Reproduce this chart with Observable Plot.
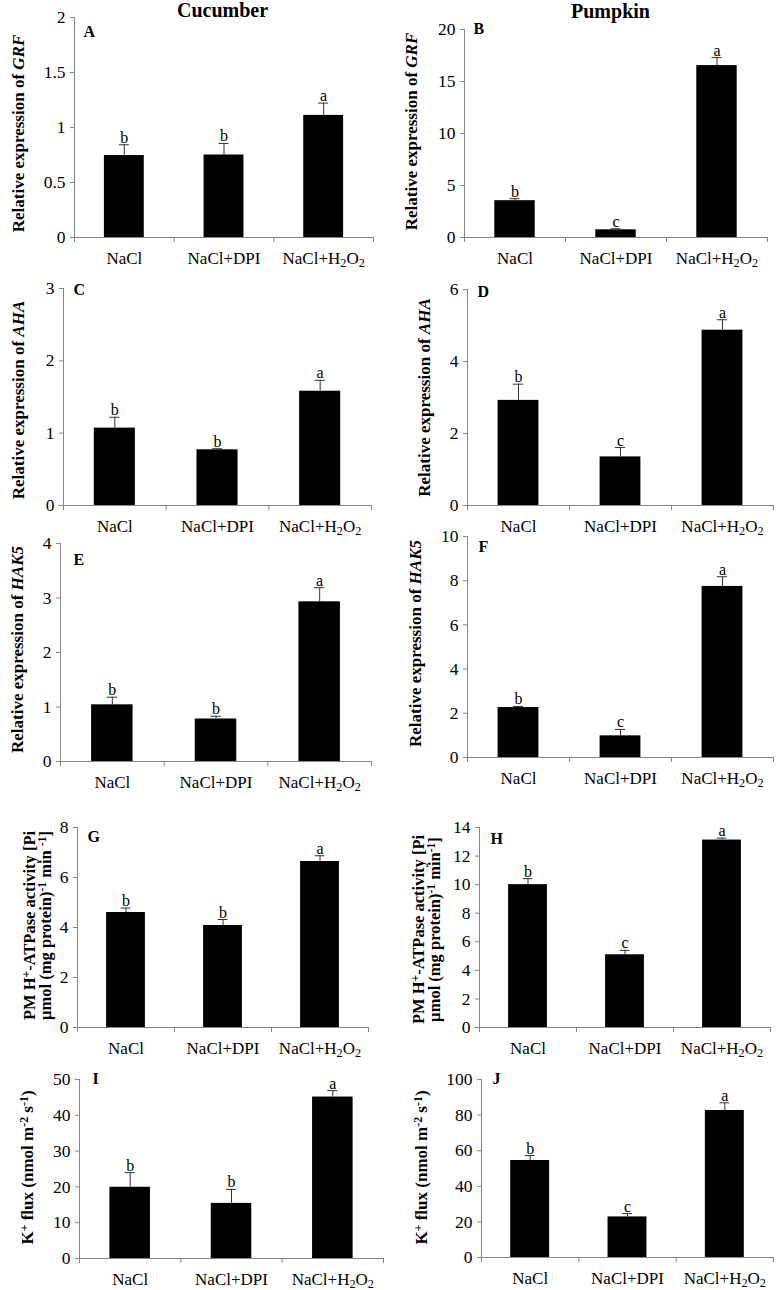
<!DOCTYPE html>
<html><head><meta charset="utf-8">
<script src="https://cdn.jsdelivr.net/npm/d3@7"></script>
<script src="https://cdn.jsdelivr.net/npm/@observablehq/plot@0.6"></script>
<style>
body{margin:0;background:#fff;}
#root{position:relative;width:778px;height:1290px;overflow:hidden;background:#fff;}
#root svg{position:absolute;}
</style></head><body><div id="root"></div>
<script>
// ---------- data ----------
const categories = ["NaCl", "NaCl+DPI", "NaCl+H2O2"];

const grfCucumber = [0.745, 0.75, 1.11];
const grfCucumberErr = [0.098, 0.105, 0.112];
const grfCucumberSig = ["b", "b", "a"];

const grfPumpkin = [3.54, 0.74, 16.53];
const grfPumpkinErr = [0.19, 0.1, 0.77];
const grfPumpkinSig = ["b", "c", "a"];

const ahaCucumber = [1.07, 0.77, 1.58];
const ahaCucumberErr = [0.15, 0.015, 0.15];
const ahaCucumberSig = ["b", "b", "a"];

const ahaPumpkin = [2.92, 1.35, 4.87];
const ahaPumpkinErr = [0.45, 0.26, 0.29];
const ahaPumpkinSig = ["b", "c", "a"];

const hak5Cucumber = [1.04, 0.78, 2.93];
const hak5CucumberErr = [0.14, 0.05, 0.26];
const hak5CucumberSig = ["b", "b", "a"];

const hak5Pumpkin = [2.26, 0.98, 7.74];
const hak5PumpkinErr = [0.05, 0.29, 0.44];
const hak5PumpkinSig = ["b", "c", "a"];

const atpaseCucumber = [4.6, 4.08, 6.64];
const atpaseCucumberErr = [0.18, 0.24, 0.23];
const atpaseCucumberSig = ["b", "b", "a"];

const atpasePumpkin = [10.0, 5.09, 13.12];
const atpasePumpkinErr = [0.42, 0.31, 0.14];
const atpasePumpkinSig = ["b", "c", "a"];

const kfluxCucumber = [19.9, 15.4, 45.1];
const kfluxCucumberErr = [4.1, 3.9, 1.8];
const kfluxCucumberSig = ["b", "b", "a"];

const kfluxPumpkin = [54.5, 22.8, 82.6];
const kfluxPumpkinErr = [2.8, 1.9, 4.3];
const kfluxPumpkinSig = ["b", "c", "a"];

const ticksA = [0, 0.5, 1, 1.5, 2];
const ticksB = [0, 5, 10, 15, 20];
const ticksC = [0, 1, 2, 3];
const ticksD = [0, 2, 4, 6];
const ticksE = [0, 1, 2, 3, 4];
const ticksF = [0, 2, 4, 6, 8, 10];
const ticksG = [0, 2, 4, 6, 8];
const ticksH = [0, 2, 4, 6, 8, 10, 12, 14];
const ticksI = [0, 10, 20, 30, 40, 50];
const ticksJ = [0, 20, 40, 60, 80, 100];

const labelGRF = [{t: "Relative expression of "}, {t: "GRF", i: true}];
const labelAHA = [{t: "Relative expression of "}, {t: "AHA", i: true}];
const labelHAK5 = [{t: "Relative expression of "}, {t: "HAK5", i: true}];
const labelATPaseG = [{t: "PM H"}, {t: "+", sup: true}, {t: "-ATPase activity [Pi"},
  {t: "µmol (mg protein)", nl: true}, {t: "-1", sup: true}, {t: " min "}, {t: "-1", sup: true}, {t: "]"}];
const labelATPaseH = [{t: "PM H"}, {t: "+", sup: true}, {t: "-ATPase activity [Pi"},
  {t: "µmol (mg protein)", nl: true}, {t: "-1", sup: true}, {t: " min"}, {t: "-1", sup: true}, {t: "]"}];
const labelKflux = [{t: "K"}, {t: "+", sup: true}, {t: " flux (nmol m"}, {t: "-2", sup: true}, {t: " s"}, {t: "-1", sup: true}, {t: ")"}];

// ---------- layout ----------
const panels = [
  {id: "A", v: grfCucumber, e: grfCucumberErr, s: grfCucumberSig, ticks: ticksA, label: labelGRF, col: 0, axisX: 74, xEnd: 373, top: 17, base: 237, ldx: -56, ldy: 6, adx: 9, ady: 8, title: "Cucumber", tdx: -1.5, tdy: -6.5},
  {id: "B", v: grfPumpkin, e: grfPumpkinErr, s: grfPumpkinSig, ticks: ticksB, label: labelGRF, col: 1, axisX: 464, xEnd: 767, top: 29, base: 237, ldx: -53, ldy: -2, adx: 9, ady: -7, title: "Pumpkin", tdx: -5.5, tdy: -17.5},
  {id: "C", v: ahaCucumber, e: ahaCucumberErr, s: ahaCucumberSig, ticks: ticksC, label: labelAHA, col: 0, axisX: 63, xEnd: 371, top: 288, base: 505, ldx: -45, ldy: 3, adx: 10, ady: -5},
  {id: "D", v: ahaPumpkin, e: ahaPumpkinErr, s: ahaPumpkinSig, ticks: ticksD, label: labelAHA, col: 1, axisX: 467, xEnd: 773, top: 289, base: 505, ldx: -43, ldy: 0, adx: 10, ady: -4},
  {id: "E", v: hak5Cucumber, e: hak5CucumberErr, s: hak5CucumberSig, ticks: ticksE, label: labelHAK5, col: 0, axisX: 60, xEnd: 371, top: 543, base: 761, ldx: -43, ldy: -3, adx: 13, ady: 10},
  {id: "F", v: hak5Pumpkin, e: hak5PumpkinErr, s: hak5PumpkinSig, ticks: ticksF, label: labelHAK5, col: 1, axisX: 467, xEnd: 773, top: 536, base: 757, ldx: -52, ldy: -3.5, adx: 11, ady: 4},
  {id: "G", v: atpaseCucumber, e: atpaseCucumberErr, s: atpaseCucumberSig, ticks: ticksG, label: labelATPaseG, col: 0, axisX: 77, xEnd: 368, top: 827, base: 1027, ldx: -48, ldy: -2, adx: 10, ady: 3, lfs: 16.5},
  {id: "H", v: atpasePumpkin, e: atpasePumpkinErr, s: atpasePumpkinSig, ticks: ticksH, label: labelATPaseH, col: 1, axisX: 479, xEnd: 770, top: 827, base: 1027, ldx: -61, ldy: 2, adx: 11, ady: 5, lfs: 16.5},
  {id: "I", v: kfluxCucumber, e: kfluxCucumberErr, s: kfluxCucumberSig, ticks: ticksI, label: labelKflux, col: 0, axisX: 79, xEnd: 383, top: 1079, base: 1258, ldx: -52, ldy: -1.5, adx: 13, ady: -7},
  {id: "J", v: kfluxPumpkin, e: kfluxPumpkinErr, s: kfluxPumpkinSig, ticks: ticksJ, label: labelKflux, col: 1, axisX: 481, xEnd: 773, top: 1079, base: 1257, ldx: -60, ldy: -1, adx: 11, ady: -7}
];

const FONT = '"Liberation Serif", "Times New Roman", Times, serif';
const AXIS = "#868686";
const NS = "http://www.w3.org/2000/svg";

function rich(el, parts, lineGap) {
  while (el.firstChild) el.removeChild(el.firstChild);
  for (const p of parts) {
    const t = document.createElementNS(NS, "tspan");
    t.textContent = p.t;
    if (p.nl) { t.setAttribute("x", "0"); t.setAttribute("dy", lineGap || "1em"); }
    if (p.i) t.setAttribute("font-style", "italic");
    if (p.sup) { t.setAttribute("baseline-shift", "5px"); t.setAttribute("font-size", "70%"); }
    if (p.sub) { t.setAttribute("baseline-shift", "-3px"); t.setAttribute("font-size", "72%"); }
    el.appendChild(t);
  }
}
const plain = parts => parts.map(p => p.t).join("");

const root = document.getElementById("root");
const MT = 30, MB = 38;

for (const P of panels) {
  const left = P.col ? 390 : 0;
  const width = P.col ? 388 : 390;
  const data = categories.map((c, i) => ({i, c, v: P.v[i], e: P.e[i], s: P.s[i]}));
  const ymax = P.ticks[P.ticks.length - 1];
  const labelText = plain(P.label);
  const marks = [
    Plot.rectY(data, {x1: d => d.i + 0.3, x2: d => d.i + 0.7, y: "v", fill: "black"}),
    Plot.ruleX(data, {x: d => d.i + 0.5, y1: "v", y2: d => d.v + d.e, stroke: "#333", strokeWidth: 1}),
    Plot.ruleY(data, {y: d => d.v + d.e, x1: d => d.i + 0.45, x2: d => d.i + 0.55, stroke: "#333", strokeWidth: 1}),
    Plot.text(data, {x: d => d.i + 0.5, y: d => d.v + d.e, text: "s", lineAnchor: "bottom", dy: -2, fontSize: 16, fill: "black"}),
    Plot.ruleY([0], {stroke: AXIS}),
    Plot.ruleX([0], {stroke: AXIS}),
    Plot.axisY({ticks: P.ticks, tickFormat: d => String(d), tickSize: 4, tickPadding: 5, stroke: AXIS, fill: "black", fontSize: 17.5, label: null}),
    Plot.axisX({ticks: [0, 1, 2, 3], tickFormat: () => "", tickSize: 5, stroke: AXIS, label: null}),
    Plot.axisX({ticks: [0.5, 1.5, 2.5], tickFormat: d => categories[Math.floor(d)], tickSize: 0, tickPadding: 14, fill: "black", fontSize: 17, label: null}),
    Plot.text([P.id], {frameAnchor: "top-left", dx: P.adx, dy: P.ady, textAnchor: "start", lineAnchor: "top", fontWeight: "bold", fontSize: 16, fill: "black"}),
    Plot.text([labelText], {frameAnchor: "left", dx: P.ldx, dy: P.ldy, rotate: -90, textAnchor: "middle", lineAnchor: "middle", fontWeight: "bold", fontSize: P.lfs || 17, fill: "black"})
  ];
  if (P.title) marks.push(Plot.text([P.title], {frameAnchor: "top", dx: P.tdx, dy: P.tdy, lineAnchor: "middle", fontWeight: "bold", fontSize: 20, fill: "black"}));
  const svg = Plot.plot({
    width, height: MT + (P.base - P.top) + MB,
    marginLeft: P.axisX - left, marginRight: left + width - P.xEnd,
    marginTop: MT, marginBottom: MB,
    style: {background: "transparent", fontFamily: FONT, fontSize: "17px", color: "black", overflow: "visible"},
    x: {type: "linear", domain: [0, 3], axis: null},
    y: {type: "linear", domain: [0, ymax], axis: null},
    marks
  });
  svg.style.left = left + "px";
  svg.style.top = (P.top - MT) + "px";
  root.appendChild(svg);
  for (const t of svg.querySelectorAll("text")) {
    const s = t.textContent;
    if (s === "NaCl+H2O2") rich(t, [{t: "NaCl+H"}, {t: "2", sub: true}, {t: "O"}, {t: "2", sub: true}]);
    else if (s === labelText) rich(t, P.label, "1em");
  }
}
</script></body></html>
